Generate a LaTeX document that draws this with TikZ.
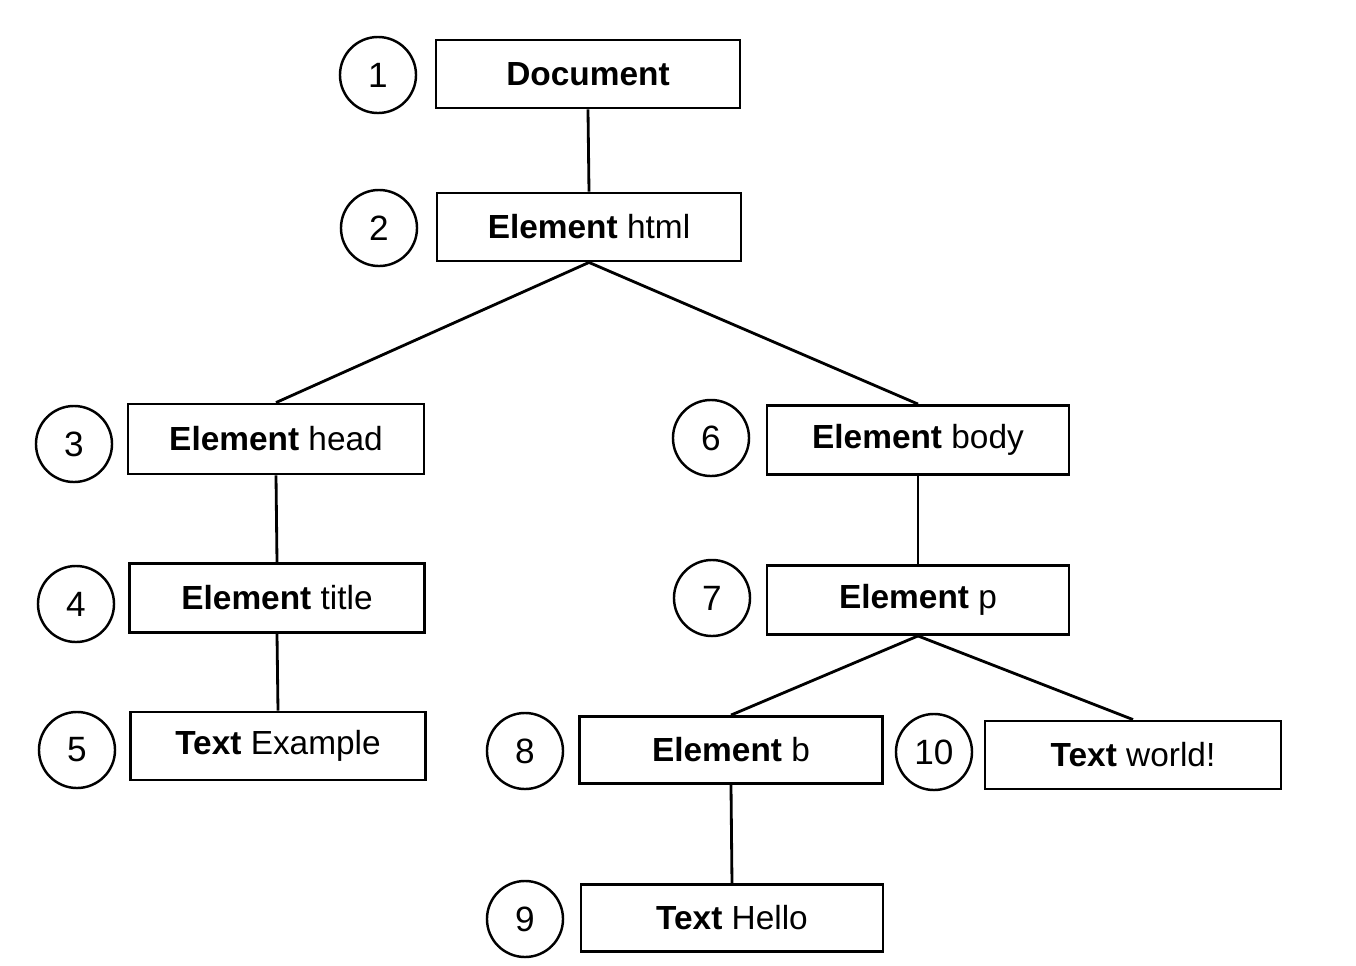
\documentclass[tikz,border=0pt]{standalone}
\usepackage{fontspec}
\setmainfont{Liberation Sans}
\begin{document}
\begin{tikzpicture}[x=0.01cm,y=-0.01cm,
  box/.style={draw, line width=0.8pt, minimum width=3.0cm, minimum height=0.68cm, inner sep=0pt, font=\fontsize{9.5}{11}\selectfont},
  num/.style={draw, circle, line width=0.7pt, minimum size=0.76cm, inner sep=0pt, font=\fontsize{10}{12}\selectfont},
  edge/.style={line width=0.8pt}]
\useasboundingbox (0,0) rectangle (1356,966);
\node[box, minimum width=3.04cm] (n1) at (588,74) {\textbf{Document}};
\node[box, minimum width=3.04cm] (n2) at (589,227) {\textbf{Element} html};
\node[box, minimum width=2.96cm, minimum height=0.70cm] (n3) at (276,439) {\textbf{Element} head};
\node[box, minimum width=2.95cm, minimum height=0.69cm] (n4) at (277,598) {\textbf{Element} title};
\node[box, minimum width=2.95cm] (n5) at (278,746) {\textbf{Text} Example};
\node[box, minimum width=3.02cm, minimum height=0.69cm] (n6) at (918,440) {\textbf{Element} body};
\node[box, minimum width=3.02cm, minimum height=0.69cm] (n7) at (918,600) {\textbf{Element} p};
\node[box, minimum width=3.03cm, minimum height=0.67cm] (n8) at (731,750) {\textbf{Element} b};
\node[box, minimum width=3.02cm, minimum height=0.67cm] (n9) at (732,918) {\textbf{Text} Hello};
\node[box, minimum width=2.96cm] (n10) at (1133,755) {\textbf{Text} world!};
\node[num] (c1) at (378,75) {1};
\node[num] (c2) at (379,228) {2};
\node[num] (c3) at (74,444) {3};
\node[num] (c4) at (76,604) {4};
\node[num] (c5) at (77,750) {5};
\node[num] (c6) at (711,438) {6};
\node[num] (c7) at (712,598) {7};
\node[num] (c8) at (525,751) {8};
\node[num] (c9) at (525,919) {9};
\node[num] (c10) at (934,752) {10};
\draw[edge] (n1.south) -- (n2.north);
\draw[edge] (n2.south) -- (n3.north);
\draw[edge] (n2.south) -- (n6.north);
\draw[edge] (n3.south) -- (n4.north);
\draw[edge] (n4.south) -- (n5.north);
\draw[edge] (n6.south) -- (n7.north);
\draw[edge] (n7.south) -- (n8.north);
\draw[edge] (n7.south) -- (n10.north);
\draw[edge] (n8.south) -- (n9.north);
\end{tikzpicture}
\end{document}
